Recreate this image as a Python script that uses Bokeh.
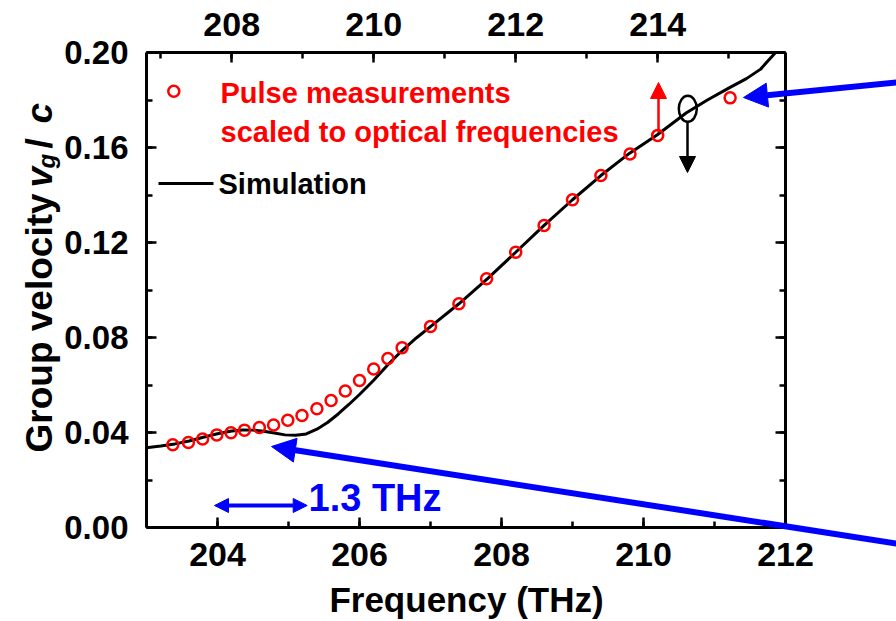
import math
from bokeh.plotting import figure
from bokeh.models import (LinearAxis, Range1d, Label, Arrow, NormalHead,
                          SingleIntervalTicker, PrintfTickFormatter)
from bokeh.embed import file_html
from bokeh.resources import INLINE

# ---------------- data ----------------
meas_freq = [203.37, 203.59, 203.79, 203.99, 204.19, 204.38, 204.59, 204.79, 204.99,
             205.19, 205.40, 205.60, 205.80, 206.00, 206.20, 206.40, 206.60, 207.00,
             207.40, 207.79, 208.20, 208.60, 209.00, 209.40, 209.81, 210.20, 211.22]
meas_vg = [0.0348, 0.0358, 0.0373, 0.0390, 0.0399, 0.0410, 0.0421, 0.0432, 0.0452,
           0.0472, 0.0500, 0.0535, 0.0575, 0.0619, 0.0667, 0.0712, 0.0757, 0.0846,
           0.0942, 0.1047, 0.1159, 0.1272, 0.1380, 0.1482, 0.1573, 0.1651, 0.1809]

sim_freq = [203.0, 203.2, 203.4, 203.6, 203.8, 204.0, 204.2, 204.35, 204.5, 204.65,
            204.8, 204.95, 205.1, 205.25, 205.4, 205.55, 205.7, 205.85, 206.0, 206.2,
            206.4, 206.6, 206.8, 207.0, 207.4, 207.8, 208.2, 208.6, 209.0, 209.4,
            209.8, 210.2, 210.6, 210.9, 211.2, 211.45, 211.65, 211.86]
sim_vg = [0.0336, 0.0343, 0.0352, 0.0364, 0.0380, 0.0395, 0.0406, 0.0411, 0.0410, 0.0405,
          0.0398, 0.0390, 0.0388, 0.0394, 0.0414, 0.0442, 0.0478, 0.0518, 0.0560, 0.0620,
          0.0685, 0.0745, 0.0798, 0.0846, 0.0942, 0.1047, 0.1159, 0.1272, 0.1380, 0.1482,
          0.1575, 0.1655, 0.1745, 0.1800, 0.1850, 0.1890, 0.1930, 0.2000]

x_bounds = (203, 212)          # bottom axis (Frequency, THz)
top_bounds = (206.8, 215.8)    # top axis
y_bounds = (0, 0.2)            # group velocity
top_shift = 3.8

# ---------------- canvas geometry ----------------
W, H = 896, 621
FL, FR, FT, FB = 146, 785, 52, 527          # box edges in pixels
sx = (FR - FL) / (x_bounds[1] - x_bounds[0])
sy = (FB - FT) / (y_bounds[1] - y_bounds[0])
xs = x_bounds[0] - FL / sx
xe = x_bounds[0] + (W - FL) / sx
ys = y_bounds[0] - (H - FB) / sy
ye = y_bounds[0] + FB / sy


def X(px):
    return x_bounds[0] + (px - FL) / sx


def Y(py):
    return y_bounds[0] + (FB - py) / sy


FONT = "Liberation Sans"

p = figure(width=W, height=H, x_range=Range1d(xs, xe), y_range=Range1d(ys, ye),
           output_backend="svg", toolbar_location=None,
           x_axis_location=None, y_axis_location=None,
           min_border=0, min_border_left=0, min_border_right=0,
           min_border_top=0, min_border_bottom=0)
p.extra_x_ranges = {"top": Range1d(xs + top_shift, xe + top_shift)}
p.grid.visible = False
p.outline_line_color = None
p.background_fill_color = "white"
p.border_fill_color = "white"


def style(ax, standoff, size="34px"):
    ax.axis_line_width = 3
    ax.axis_line_color = "black"
    ax.major_tick_in = 10
    ax.major_tick_out = 0
    ax.minor_tick_in = 6
    ax.minor_tick_out = 0
    ax.major_tick_line_width = 2.5
    ax.minor_tick_line_width = 2.5
    ax.major_tick_line_color = "black"
    ax.minor_tick_line_color = "black"
    ax.major_label_text_font = FONT
    ax.major_label_text_font_style = "bold"
    ax.major_label_text_font_size = size
    ax.major_label_text_color = "black"
    ax.major_label_standoff = standoff
    ax.axis_label = None


xb = LinearAxis(fixed_location=y_bounds[0], bounds=x_bounds,
                ticker=SingleIntervalTicker(interval=2, num_minor_ticks=2))
style(xb, 15)
p.add_layout(xb, "below")

xt = LinearAxis(x_range_name="top", fixed_location=y_bounds[1], bounds=top_bounds,
                ticker=SingleIntervalTicker(interval=2, num_minor_ticks=2))
style(xt, 17)
p.add_layout(xt, "above")

yl = LinearAxis(fixed_location=x_bounds[0], bounds=y_bounds,
                ticker=SingleIntervalTicker(interval=0.04, num_minor_ticks=2),
                formatter=PrintfTickFormatter(format="%.2f"))
style(yl, 18, "33px")
p.add_layout(yl, "left")

yr = LinearAxis(fixed_location=x_bounds[1], bounds=y_bounds,
                ticker=SingleIntervalTicker(interval=0.04, num_minor_ticks=2))
style(yr, 4)
yr.major_label_text_color = None
p.add_layout(yr, "right")

# ---------------- series ----------------
p.line(sim_freq, sim_vg, line_color="black", line_width=3)
p.scatter(meas_freq, meas_vg, marker="circle", size=11, fill_color=None,
          line_color="red", line_width=2.5)

# ---------------- legend (manual) ----------------
p.scatter([X(173.3)], [Y(90.7)], marker="circle", size=11, fill_color=None,
          line_color="red", line_width=2.5)
p.line([X(158), X(213)], [Y(183), Y(183)], line_color="black", line_width=3)


def lab(x, y, text, size, color="black", style_="bold", align="left", baseline="middle", angle=0.0):
    p.add_layout(Label(x=x, y=y, text=text, text_font=FONT, text_font_size=size,
                       text_font_style=style_, text_color=color, text_align=align,
                       text_baseline=baseline, angle=angle))


lab(X(220), Y(92), "Pulse measurements", "29px", color="red")
lab(X(220), Y(131), "scaled to optical frequencies", "29px", color="red")
lab(X(218), Y(183), "Simulation", "29px")

# ---------------- axis titles (manual) ----------------
lab(X(466), Y(599), "Frequency (THz)", "35px", align="center")
R = math.pi / 2
lab(X(39), Y(452), "Group velocity", "37px", baseline="alphabetic", angle=R)
lab(X(39), Y(187), "v", "37px", style_="bold italic", baseline="alphabetic", angle=R)
lab(X(46), Y(168), "g", "24px", style_="bold italic", baseline="alphabetic", angle=R)
lab(X(39), Y(148), "/", "37px", baseline="alphabetic", angle=R)
lab(X(39), Y(123), "c", "37px", style_="bold italic", baseline="alphabetic", angle=R)

# ---------------- annotations ----------------
p.add_layout(Arrow(end=NormalHead(size=16, fill_color="red", line_color="red"),
                   x_start=X(658), y_start=Y(132), x_end=X(658), y_end=Y(82),
                   line_color="red", line_width=2.5))
p.ellipse(x=[X(687.3)], y=[Y(108.3)], width=18 / sx, height=26 / sy, fill_color=None,
          line_color="black", line_width=2.5)
p.add_layout(Arrow(end=NormalHead(size=16, fill_color="black", line_color="black"),
                   x_start=X(687), y_start=Y(121), x_end=X(687), y_end=Y(172),
                   line_color="black", line_width=2.5))
p.add_layout(Arrow(end=NormalHead(size=24, fill_color="blue", line_color="blue"),
                   x_start=X(896), y_start=Y(82), x_end=X(743), y_end=Y(97),
                   line_color="blue", line_width=6))
p.add_layout(Arrow(end=NormalHead(size=24, fill_color="blue", line_color="blue"),
                   x_start=X(896), y_start=Y(543), x_end=X(271), y_end=Y(446),
                   line_color="blue", line_width=6))
p.add_layout(Arrow(start=NormalHead(size=14, fill_color="blue", line_color="blue"),
                   end=NormalHead(size=14, fill_color="blue", line_color="blue"),
                   x_start=X(214), y_start=Y(505), x_end=X(306.7), y_end=Y(505),
                   line_color="blue", line_width=4))
lab(X(308), Y(497), "1.3 THz", "38px", color="blue")

open("out.html", "w").write(file_html(p, INLINE))
